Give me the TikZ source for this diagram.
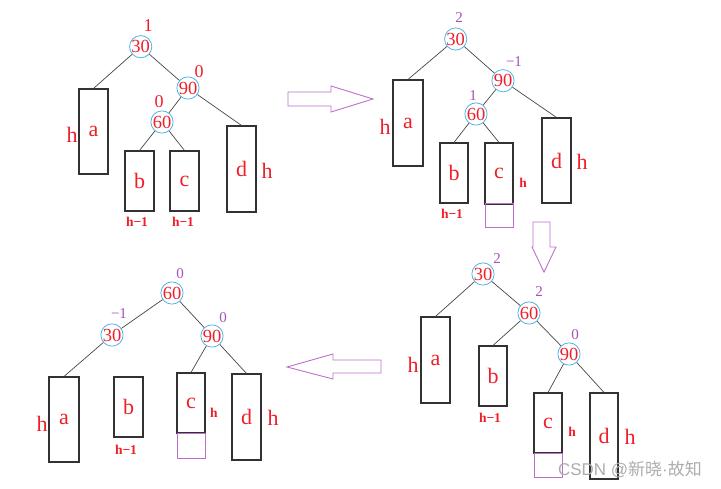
\documentclass[tikz,border=0pt]{standalone}
\usepackage{fontspec}
\setmainfont{Liberation Serif}
\newfontfamily\cjkwm{Noto Sans CJK SC}
\newfontfamily\latwm{Liberation Sans}
\definecolor{cred}{RGB}{240,30,40}
\definecolor{cblue}{RGB}{80,180,230}
\definecolor{cpurp}{RGB}{190,110,205}
\definecolor{cpurpt}{RGB}{165,80,190}
\definecolor{bgray}{RGB}{50,50,50}
\definecolor{egray}{RGB}{70,70,70}
\tikzset{
 avl/.style={circle, draw=cblue, line width=0.8pt, minimum size=21pt, inner sep=0pt, text=cred, font=\fontsize{18.5}{18.5}\selectfont},
 sub/.style={draw=bgray, line width=1.1pt, inner sep=0pt, text=cred, font=\fontsize{22}{22}\selectfont},
 ext/.style={draw=cpurp, line width=1pt, inner sep=0pt},
 hl/.style={text=cred, font=\fontsize{22}{22}\selectfont, inner sep=0pt},
 hs/.style={text=cred, font=\fontsize{13.5}{13.5}\selectfont\bfseries, inner sep=0pt},
 bfp/.style={text=cpurpt, font=\fontsize{15}{15}\selectfont, inner sep=0pt},
 bfr/.style={text=cred, font=\fontsize{18}{18}\selectfont, inner sep=0pt},
 link/.style={draw=egray, line width=0.7pt},
 bigarrow/.style={draw=cpurp, line width=0.9pt, line join=miter},
}
\begin{document}
\begin{tikzpicture}[x=1pt,y=-1pt]
\useasboundingbox (0,0) rectangle (721,489);
% ---------- Panel 1 ----------
\node[avl] (p1n30) at (140.7,46.7) {30};
\node[avl] (p1n90) at (188,88) {90};
\node[avl] (p1n60) at (162,122) {60};
\node[bfr] (p1b30) at (148,26) {1};
\node[bfr] (p1b90) at (199,72) {0};
\node[bfr] (p1b60) at (159,102) {0};
\node[sub, minimum width=29pt, minimum height=85pt] (p1a) at (93.5,131.5) {a};
\node[sub, minimum width=29pt, minimum height=60pt] (p1b) at (139.5,181) {b};
\node[sub, minimum width=29pt, minimum height=60pt] (p1c) at (184.5,181) {c};
\node[sub, minimum width=29pt, minimum height=86pt] (p1d) at (241.5,169) {d};
\node[hl] (p1ha) at (72,135) {h};
\node[hs] (p1hb) at (137,222) {h−1};
\node[hs] (p1hc) at (183,222) {h−1};
\node[hl] (p1hd) at (267,171) {h};
\draw[link] (p1n30) -- (p1a.north);
\draw[link] (p1n30) -- (p1n90);
\draw[link] (p1n90) -- (p1n60);
\draw[link] (p1n90) -- (p1d.north);
\draw[link] (p1n60) -- (p1b.north);
\draw[link] (p1n60) -- (p1c.north);
% ---------- Panel 2 ----------
\node[avl] (p2n30) at (455.7,39) {30};
\node[avl] (p2n90) at (503,80.7) {90};
\node[avl] (p2n60) at (476,114) {60};
\node[bfp] (p2b30) at (459,18) {2};
\node[bfp] (p2b90) at (514,62) {−1};
\node[bfp] (p2b60) at (473,96) {1};
\node[sub, minimum width=30pt, minimum height=86pt] (p2a) at (408,123) {a};
\node[sub, minimum width=28pt, minimum height=60pt] (p2b) at (454,173) {b};
\node[sub, minimum width=28pt, minimum height=61pt] (p2c) at (499,173.5) {c};
\node[ext, minimum width=28pt, minimum height=24pt] (p2x) at (499,216) {};
\node[sub, minimum width=29pt, minimum height=85pt] (p2d) at (556.5,160.5) {d};
\node[hl] (p2ha) at (385,127) {h};
\node[hs] (p2hb) at (452,214) {h−1};
\node[hs] (p2hc) at (523,183) {h};
\node[hl] (p2hd) at (582,162) {h};
\draw[link] (p2n30) -- (p2a.north);
\draw[link] (p2n30) -- (p2n90);
\draw[link] (p2n90) -- (p2n60);
\draw[link] (p2n90) -- (p2d.north);
\draw[link] (p2n60) -- (p2b.north);
\draw[link] (p2n60) -- (p2c.north);
% ---------- Panel 3 ----------
\node[avl] (p3n30) at (483,274) {30};
\node[avl] (p3n60) at (529,313) {60};
\node[avl] (p3n90) at (569,354) {90};
\node[bfp] (p3b30) at (497,259) {2};
\node[bfp] (p3b60) at (539,292) {2};
\node[bfp] (p3b90) at (575,335) {0};
\node[sub, minimum width=29pt, minimum height=86pt] (p3a) at (435.5,360) {a};
\node[sub, minimum width=28pt, minimum height=60pt] (p3b) at (493,376) {b};
\node[sub, minimum width=28pt, minimum height=60pt] (p3c) at (548,423) {c};
\node[ext, minimum width=28pt, minimum height=24pt] (p3x) at (548,465) {};
\node[sub, minimum width=28pt, minimum height=86pt] (p3d) at (604,436) {d};
\node[hl] (p3ha) at (413,365) {h};
\node[hs] (p3hb) at (490,418) {h−1};
\node[hs] (p3hc) at (572,432) {h};
\node[hl] (p3hd) at (630,437) {h};
\draw[link] (p3n30) -- (p3a.north);
\draw[link] (p3n30) -- (p3n60);
\draw[link] (p3n60) -- (p3b.north);
\draw[link] (p3n60) -- (p3n90);
\draw[link] (p3n90) -- (p3c.north);
\draw[link] (p3n90) -- (p3d.north);
% ---------- Panel 4 ----------
\node[avl] (p4n60) at (172,293) {60};
\node[avl] (p4n30) at (112,335) {30};
\node[avl] (p4n90) at (212,336) {90};
\node[bfp] (p4b60) at (180,274) {0};
\node[bfp] (p4b30) at (119,314) {−1};
\node[bfp] (p4b90) at (223,318) {0};
\node[sub, minimum width=30pt, minimum height=85pt] (p4a) at (64,419.5) {a};
\node[sub, minimum width=29pt, minimum height=60pt] (p4b) at (128.5,407) {b};
\node[sub, minimum width=28pt, minimum height=60pt] (p4c) at (191,403) {c};
\node[ext, minimum width=28pt, minimum height=25pt] (p4x) at (191,445.5) {};
\node[sub, minimum width=29pt, minimum height=86pt] (p4d) at (246.5,417) {d};
\node[hl] (p4ha) at (42,424) {h};
\node[hs] (p4hb) at (126,450) {h−1};
\node[hs] (p4hc) at (214,413) {h};
\node[hl] (p4hd) at (273,418) {h};
\draw[link] (p4n60) -- (p4n30);
\draw[link] (p4n60) -- (p4n90);
\draw[link] (p4n30) -- (p4a.north);
\draw[link] (p4n90) -- (p4c.north);
\draw[link] (p4n90) -- (p4d.north);
% ---------- Big arrows ----------
\draw[bigarrow] (288,92) -- (331,92) -- (331,86) -- (373,99) -- (331,112) -- (331,106) -- (288,106) -- cycle;
\draw[bigarrow] (533,222) -- (550,222) -- (550,247) -- (556,247) -- (544,272) -- (532,247) -- (533,247) -- cycle;
\draw[bigarrow] (381,360) -- (333,360) -- (333,354) -- (287,367) -- (333,379) -- (333,373) -- (381,373) -- cycle;
% ---------- Watermark ----------
\node[text=gray!65, font=\fontsize{17}{17}\selectfont, inner sep=0pt] (wm) at (630,469) {\latwm CSDN @\cjkwm 新晓\latwm ·\cjkwm 故知};
\end{tikzpicture}
\end{document}
